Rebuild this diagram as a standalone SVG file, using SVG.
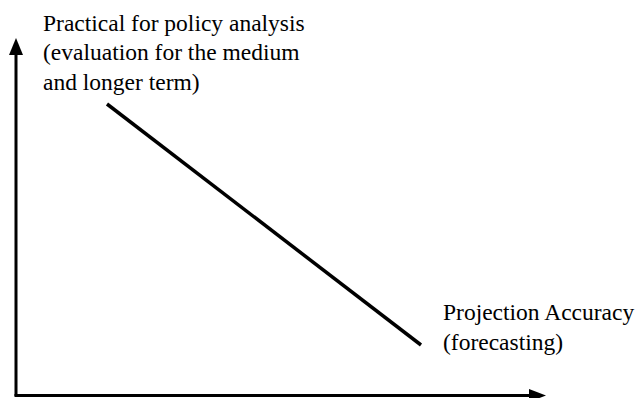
<svg xmlns="http://www.w3.org/2000/svg" width="640" height="398" viewBox="0 0 640 398">
  <style>
    .lbl { font-family: "Liberation Serif", "Times New Roman", serif; font-size: 23.5px; fill: #000; }
    .axis { stroke: #000; stroke-width: 3; fill: none; }
    .trend { stroke: #000; stroke-width: 3.5; fill: none; }
  </style>
  <rect width="640" height="398" fill="#fff"/>
  <g id="axes">
    <line class="axis" x1="16" y1="396" x2="16" y2="52"/>
    <polygon points="16,38 9,55 23,55" fill="#000"/>
    <line class="axis" x1="14.5" y1="395.5" x2="532" y2="395.5"/>
    <polygon points="546,395.5 529,389 529,402" fill="#000"/>
  </g>
  <g id="connectors">
    <line class="trend" x1="107" y1="104" x2="421" y2="345"/>
  </g>
  <g id="label-policy">
    <text class="lbl" x="43" y="30.5">Practical for policy analysis</text>
    <text class="lbl" x="43" y="60">(evaluation for the medium</text>
    <text class="lbl" x="43" y="89.5">and longer term)</text>
  </g>
  <g id="label-accuracy">
    <text class="lbl" x="443" y="320">Projection Accuracy</text>
    <text class="lbl" x="443" y="349.5">(forecasting)</text>
  </g>
</svg>
